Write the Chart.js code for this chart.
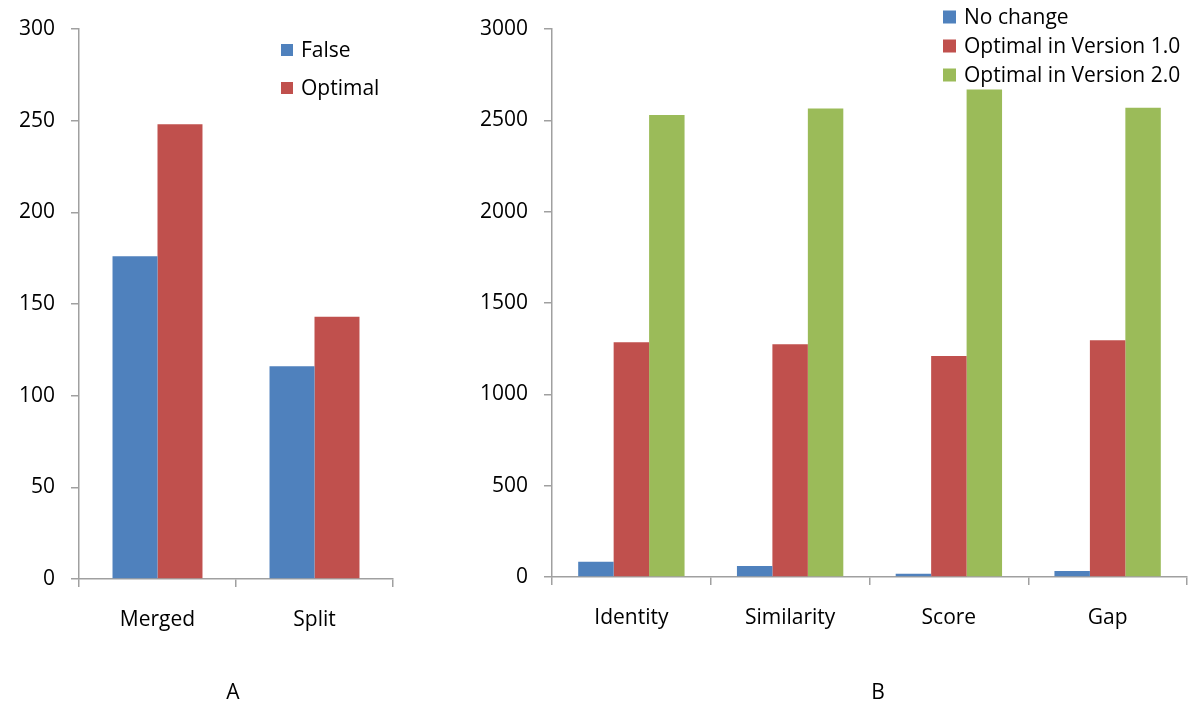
<!DOCTYPE html>
<html>
<head>
<meta charset="utf-8">
<script src="https://cdn.jsdelivr.net/npm/chart.js@4"></script>
<style>
  html, body { margin:0; padding:0; background:#fff; }
  body { width:1200px; height:717px; position:relative; overflow:hidden; font-family:"Open Sans", sans-serif; }
  .box { position:absolute; top:0; height:717px; }
  #wrapA { left:0; width:420px; }
  #wrapB { left:450px; width:750px; }
  .panel { position:absolute; top:677px; font-size:21px; color:#000; width:40px; text-align:center; }
</style>
</head>
<body>
<div class="box" id="wrapA"><canvas id="chartA"></canvas></div>
<div class="box" id="wrapB"><canvas id="chartB"></canvas></div>
<div class="panel" style="left:213px">A</div>
<div class="panel" style="left:858px">B</div>
<script>
// ===== data =====
const catsA = ['Merged', 'Split'];
const falseA = [176, 116];
const optimalA = [248, 143];

const catsB = ['Identity', 'Similarity', 'Score', 'Gap'];
const noChange = [84, 60, 18, 33];
const optV1 = [1285, 1274, 1210, 1296];
const optV2 = [2529, 2565, 2669, 2569];

const BLUE = '#4f81bd', RED = '#c0504d', GREEN = '#9bbb59';
const AXIS = '#a0a0a0';
const FONT = { family: '"Open Sans", sans-serif', size: 21 };

// simple legend drawn at a fixed spot
const boxLegend = {
  id: 'boxLegend',
  afterDraw(chart, args, o){
    const ctx = chart.ctx;
    ctx.save();
    ctx.font = `${FONT.size}px ${FONT.family}`;
    ctx.textBaseline = 'middle';
    chart.data.datasets.forEach((ds, i) => {
      const cy = o.y + i * o.gap;
      ctx.fillStyle = ds.backgroundColor;
      ctx.fillRect(o.x, cy - o.size/2, o.size, o.size);
      ctx.fillStyle = '#000';
      ctx.fillText(ds.label, o.textX, cy + 1);
    });
    ctx.restore();
  }
};

function makeChart(el, labels, datasets, yMax, yStep, pct, yWidth, xHeight, padRight, legend){
  return new Chart(el, {
    type: 'bar',
    data: { labels, datasets },
    options: {
      responsive: true,
      maintainAspectRatio: false,
      animation: false,
      layout: { padding: { top: 29, left: 0, right: padRight, bottom: 0 } },
      datasets: { bar: { categoryPercentage: pct, barPercentage: 1, borderWidth: 0 } },
      plugins: { legend: { display: false }, tooltip: { enabled: false }, boxLegend: legend },
      scales: {
        x: {
          grid: { drawOnChartArea: false, tickLength: 8, color: AXIS, lineWidth: 1.5 },
          border: { color: AXIS, width: 1.5 },
          ticks: { color: '#000', font: FONT, padding: 20 },
          afterFit(s){ s.height = xHeight; }
        },
        y: {
          min: 0, max: yMax,
          grid: { drawOnChartArea: false, tickLength: 8, color: AXIS, lineWidth: 1.5 },
          border: { color: AXIS, width: 1.5 },
          ticks: { stepSize: yStep, color: '#000', font: FONT, padding: 16, callback: v => String(v) },
          afterFit(s){ s.width = yWidth; }
        }
      }
    },
    plugins: [boxLegend]
  });
}

makeChart(document.getElementById('chartA'), catsA, [
  { label: 'False', data: falseA, backgroundColor: BLUE },
  { label: 'Optimal', data: optimalA, backgroundColor: RED }
], 300, 50, 0.573, 79, 138, 27, { x: 281, textX: 301, y: 50, gap: 38, size: 12 });

makeChart(document.getElementById('chartB'), catsB, [
  { label: 'No change', data: noChange, backgroundColor: BLUE },
  { label: 'Optimal in Version 1.0', data: optV1, backgroundColor: RED },
  { label: 'Optimal in Version 2.0', data: optV2, backgroundColor: GREEN }
], 3000, 500, 0.67, 102, 140, 13, { x: 493, textX: 514, y: 17, gap: 29, size: 13 });
</script>
</body>
</html>
